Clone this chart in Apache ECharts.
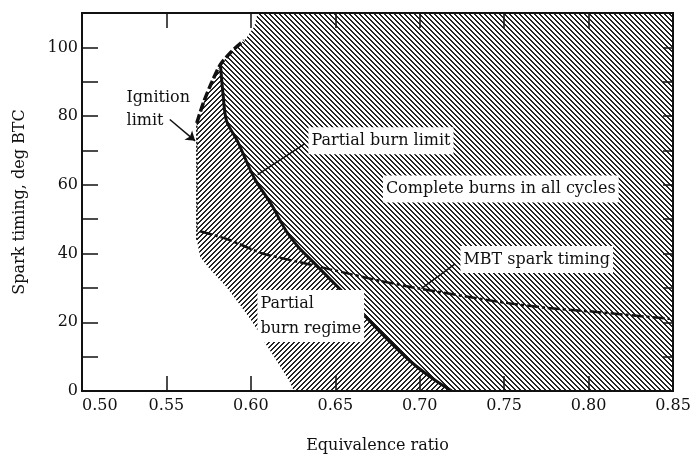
<!DOCTYPE html>
<html><head><meta charset="utf-8">
<script src="https://cdn.jsdelivr.net/npm/echarts/dist/echarts.min.js"></script>
<style>html,body{margin:0;padding:0;background:#fff}#c{width:691px;height:457px}</style>
</head><body><div id="c"></div>
<script>
// ---- axes ----
const xMin = 0.50, xMax = 0.85, xStep = 0.05;
const yMin = 0, yMax = 110, yStep = 10, yLabelStep = 20, yLabelMax = 100;
const xTitle = 'Equivalence ratio';
const yTitle = 'Spark timing, deg BTC';

// ---- outer boundary of operating region (ignition side), bottom -> top ----
const outerX = [0.6255, 0.6231, 0.6149, 0.6072, 0.6007, 0.5935, 0.5853, 0.5758, 0.5700, 0.568, 0.568, 0.572, 0.577, 0.582, 0.589, 0.597, 0.602, 0.604];
const outerY = [0, 2.6, 9.1, 14.9, 20.2, 25.1, 30.4, 35.4, 39, 44, 78, 84, 90, 95, 99, 102.5, 106, 110];
const junction = 13; // outer point where partial burn limit starts

// ---- ignition limit line (thick dashed) ----
const ignX = [0.568, 0.572, 0.577, 0.582, 0.589, 0.596];
const ignY = [78, 84, 90, 95, 99, 102];
// lower vertical part (thin dotted)
const ignLowX = [0.568, 0.568];
const ignLowY = [44, 78];

// ---- partial burn limit ----
const plX = [0.582, 0.5835, 0.5856, 0.592, 0.602, 0.612, 0.621, 0.628, 0.637, 0.646, 0.658, 0.672, 0.684, 0.696, 0.708, 0.719];
const plY = [95, 86.5, 78.6, 72.8, 62, 54.4, 46.5, 42, 37.5, 33, 27, 19.5, 13.5, 8, 3.5, 0];

// ---- MBT spark timing ----
const mbtX = [0.570, 0.587, 0.607, 0.627, 0.647, 0.677, 0.700, 0.746, 0.775, 0.800, 0.848];
const mbtY = [46.5, 44, 40, 37.7, 35.4, 32, 29.8, 26, 24.2, 23.2, 21];

// ---- annotations ----
const leaderPartial = [[0.604, 63], [0.632, 72]];
const leaderMBT = [[0.701, 29.8], [0.721, 37]];
const arrowIgn = [[0.552, 79], [0.567, 72.8]];
const annoText = ['Ignition\nlimit', 'Partial burn limit', 'Complete burns in all cycles', 'MBT spark timing', 'Partial\nburn regime'];
const annoX = [0.5243, 0.6338, 0.748, 0.7238, 0.6036];
const annoY = [82, 72.8, 58.8, 38.3, 21.8];

// ---- hatch patterns ----
function hatch(dir) {
  const P = 5;
  const c = document.createElement('canvas');
  c.width = P; c.height = P;
  const ctx = c.getContext('2d');
  const img = ctx.createImageData(P, P);
  for (let y = 0; y < P; y++) for (let x = 0; x < P; x++) {
    const k = dir > 0 ? (x + y) % P : ((x - y) % P + P) % P;
    const i = (y * P + x) * 4;
    const v = k < 2 ? 35 : 255;
    img.data[i] = v; img.data[i + 1] = v; img.data[i + 2] = v; img.data[i + 3] = 255;
  }
  ctx.putImageData(img, 0, 0);
  return c;
}
const hatchSlash = { image: hatch(1), repeat: 'repeat' };     // "/" partial regime
const hatchBack = { image: hatch(-1), repeat: 'repeat' };     // "\" complete burns

// build regions
const reg1 = [];
for (let i = 0; i <= junction; i++) reg1.push([outerX[i], outerY[i]]);
for (let i = 1; i < plX.length; i++) reg1.push([plX[i], plY[i]]);
const reg2 = [];
for (let i = junction; i < outerX.length; i++) reg2.push([outerX[i], outerY[i]]);
reg2.push([xMax, yMax]); reg2.push([xMax, yMin]);
for (let i = plX.length - 1; i >= 1; i--) reg2.push([plX[i], plY[i]]);

function poly(pts, fill) {
  return {
    type: 'custom', coordinateSystem: 'cartesian2d', silent: true, z: 1,
    data: [pts[0]],
    renderItem: function (params, api) {
      return { type: 'polygon', shape: { points: pts.map(p => api.coord(p)) }, style: { fill: fill, stroke: null } };
    }
  };
}
function zip(a, b) { return a.map((v, i) => [v, b[i]]); }

const FONT = 'DejaVu Serif';
const txt = { fontFamily: FONT, fontSize: 16, color: '#111' };
const tickStyle = { color: '#111', width: 1.5 };

const annoData = annoText.map((t, i) => {
  const centered = (i === 2);
  const bg = (i === 0) ? 'transparent' : '#fff';
  return {
    value: [annoX[i], annoY[i]],
    label: Object.assign({
      show: true, formatter: t, position: centered ? 'inside' : 'right', distance: 0,
      align: centered ? 'center' : 'left', opacity: 1,
      lineHeight: i === 0 ? 23 : 25, backgroundColor: bg, padding: [1, 3]
    }, txt)
  };
});

const chart = echarts.init(document.getElementById('c'), null, { renderer: 'canvas' });
chart.setOption({
  animation: false,
  backgroundColor: '#fff',
  grid: { left: 82, right: 18, top: 13, bottom: 66, containLabel: false, outerBoundsMode: 'none',
          show: true, borderColor: '#111', borderWidth: 2, backgroundColor: 'transparent', z: 6 },
  xAxis: [{
    type: 'value', min: xMin, max: xMax, interval: xStep, position: 'bottom', z: 5,
    name: xTitle, nameLocation: 'middle', nameGap: 47, nameTextStyle: txt,
    axisLine: { show: false, onZero: false },
    axisTick: { show: true, inside: true, length: 15, lineStyle: tickStyle },
    axisLabel: Object.assign({ margin: 7, formatter: v => v.toFixed(2), alignMinLabel: 'left' }, txt),
    splitLine: { show: false }
  }, {
    type: 'value', min: xMin, max: xMax, interval: xStep, position: 'top', z: 5,
    axisLine: { show: false, onZero: false },
    axisTick: { show: true, inside: true, length: 15, lineStyle: tickStyle },
    axisLabel: { show: false }, splitLine: { show: false }
  }],
  yAxis: [{
    type: 'value', min: yMin, max: yMax, interval: yStep, position: 'left', z: 5,
    name: yTitle, nameLocation: 'middle', nameGap: 54, nameRotate: 90, nameTextStyle: txt,
    axisLine: { show: false, onZero: false },
    axisTick: { show: true, inside: true, length: 16, lineStyle: tickStyle },
    axisLabel: Object.assign({ margin: 4, formatter: v => (v % yLabelStep === 0 && v <= yLabelMax) ? String(v) : '' }, txt),
    splitLine: { show: false }
  }, {
    type: 'value', min: yMin, max: yMax, interval: yStep, position: 'right', z: 5,
    axisLine: { show: false, onZero: false },
    axisTick: { show: true, inside: true, length: 10, lineStyle: tickStyle },
    axisLabel: { show: false }, splitLine: { show: false }
  }],
  series: [
    poly(reg1, hatchSlash),
    poly(reg2, hatchBack),
    { type: 'line', data: zip(ignLowX, ignLowY), showSymbol: false, silent: true, z: 3,
      lineStyle: { color: '#111', width: 1.5, type: [2, 2] } },
    { type: 'line', data: zip(ignX, ignY), showSymbol: false, silent: true, z: 3, smooth: 0.3,
      lineStyle: { color: '#111', width: 3.5, type: [9, 3] } },
    { type: 'line', data: zip(plX, plY), showSymbol: false, silent: true, z: 3, smooth: 0.3,
      lineStyle: { color: '#111', width: 3 } },
    { type: 'line', data: zip(mbtX, mbtY), showSymbol: false, silent: true, z: 3, smooth: 0.2,
      lineStyle: { color: '#111', width: 2.5, type: [12, 3, 3, 3] } },
    { type: 'lines', coordinateSystem: 'cartesian2d', silent: true, z: 3,
      symbol: ['none', 'none'],
      lineStyle: { color: '#111', width: 1.5, opacity: 1 },
      data: [{ coords: leaderPartial }, { coords: leaderMBT }] },
    { type: 'lines', coordinateSystem: 'cartesian2d', silent: true, z: 3,
      symbol: ['none', 'arrow'], symbolSize: 9,
      lineStyle: { color: '#111', width: 1.5, opacity: 1 },
      data: [{ coords: arrowIgn }] },
    { type: 'scatter', symbolSize: 1, silent: true, z: 4,
      itemStyle: { color: 'rgba(0,0,0,0)', opacity: 1 }, data: annoData }
  ]
});
</script>
</body></html>
